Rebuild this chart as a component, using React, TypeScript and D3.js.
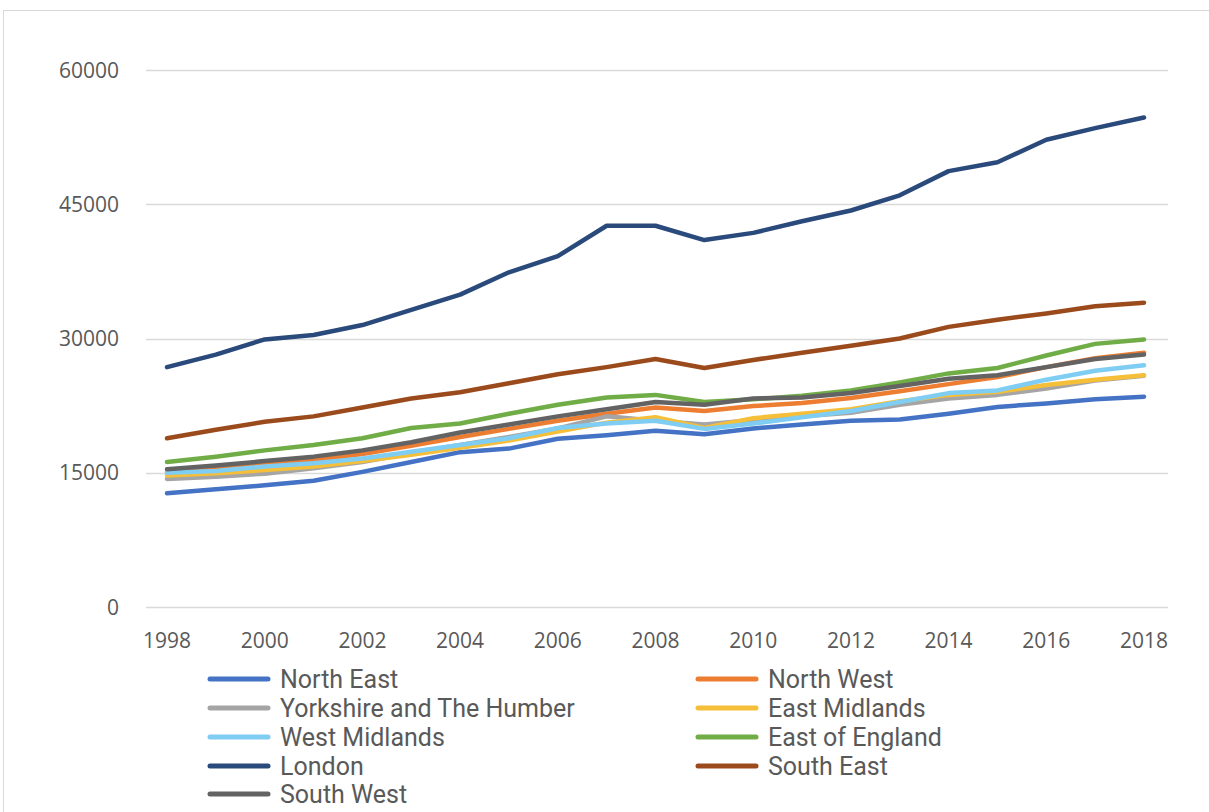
import React from "react";
import * as d3 from "d3";

const years = [1998,1999,2000,2001,2002,2003,2004,2005,2006,2007,2008,2009,2010,2011,2012,2013,2014,2015,2016,2017,2018];
const xTickYears = [1998,2000,2002,2004,2006,2008,2010,2012,2014,2016,2018];
const yTicks = [0, 15000, 30000, 45000, 60000];

const northEast = [12700,13150,13600,14100,15100,16200,17300,17700,18800,19200,19700,19300,19950,20400,20800,20950,21600,22350,22750,23200,23500];
const northWest = [15100,15500,15900,16400,17100,18000,19000,19900,20800,21600,22300,21900,22450,22800,23350,24100,24900,25700,26800,27800,28400];
const yorkshire = [14300,14550,14900,15500,16200,17200,18100,19000,19950,21300,20800,20400,20900,21300,21700,22600,23300,23700,24400,25300,25850];
const eastMidlands = [14700,14950,15300,15700,16300,17000,17800,18600,19600,20600,21200,20000,21100,21600,22100,23000,23700,24050,24800,25400,25900];
const westMidlands = [15000,15200,15700,16050,16600,17350,18100,18850,20000,20500,20800,19900,20500,21200,21900,22900,23900,24200,25400,26400,27000];
const eastOfEngland = [16200,16800,17500,18100,18850,20000,20500,21600,22600,23400,23700,22900,23200,23600,24200,25100,26100,26700,28100,29400,29900];
const london = [26800,28200,29900,30400,31500,33200,34900,37400,39200,42600,42600,41000,41800,43100,44300,46000,48700,49700,52200,53500,54700];
const southEast = [18850,19800,20700,21300,22300,23300,24000,25000,26000,26800,27700,26700,27600,28400,29200,30000,31300,32100,32800,33600,34000];
const southWest = [15400,15800,16300,16800,17500,18400,19500,20400,21300,22100,22900,22600,23300,23400,23900,24700,25500,25900,26800,27700,28200];

const seriesNames = ["North East","North West","Yorkshire and The Humber","East Midlands","West Midlands","East of England","London","South East","South West"];
const seriesValues = [northEast,northWest,yorkshire,eastMidlands,westMidlands,eastOfEngland,london,southEast,southWest];
const seriesColors = ["#4472C4","#ED7D31","#A5A5A5","#F5BF3A","#7FCDF3","#70AD47","#2A4A7C","#9B4A1C","#636363"];

const W = 1209, H = 812;
const plotLeft = 146, plotRight = 1168, plotTop = 70, plotBottom = 607;

export default function App() {
  const x = d3.scaleLinear().domain([1998, 2018]).range([167, 1144]);
  const y = d3.scaleLinear().domain([0, 60000]).range([plotBottom, plotTop]);
  const line = d3.line<number>().x((_, i) => x(years[i])).y((v) => y(v));

  const legendCols = [210, 698];
  const legendRowY = [679, 708, 737, 766, 794];

  return (
    <svg width={W} height={H} style={{ position: "absolute", left: 0, top: 0, display: "block", background: "#fff" }}>
      <rect x={3.5} y={10.5} width={1220} height={820} fill="#fff" stroke="#d9d9d9" strokeWidth={1} />
      {yTicks.map((t) => (
        <g key={t}>
          <line x1={plotLeft} x2={plotRight} y1={Math.round(y(t)) + 0.5} y2={Math.round(y(t)) + 0.5} stroke="#d9d9d9" strokeWidth={1.5} />
          <text x={119} y={y(t)} dy="0.36em" textAnchor="end" fontFamily="'Open Sans', sans-serif" fontSize={21} fill="#595959">{t}</text>
        </g>
      ))}
      {xTickYears.map((yr) => (
        <text key={yr} x={x(yr)} y={648} textAnchor="middle" fontFamily="'Open Sans', sans-serif" fontSize={21} fill="#595959">{yr}</text>
      ))}
      {seriesValues.map((vals, i) => (
        <path key={seriesNames[i]} d={line(vals) || ""} fill="none" stroke={seriesColors[i]} strokeWidth={4.5} strokeLinecap="round" strokeLinejoin="round" />
      ))}
      {seriesNames.map((name, i) => {
        const col = i % 2;
        const row = Math.floor(i / 2);
        const lx = legendCols[col];
        const ly = legendRowY[row];
        return (
          <g key={name}>
            <line x1={lx} x2={lx + 58} y1={ly} y2={ly} stroke={seriesColors[i]} strokeWidth={5} strokeLinecap="round" />
            <text x={lx + 70} y={ly} dy="0.36em" fontFamily="Roboto, sans-serif" fontSize={25} fill="#595959">{name}</text>
          </g>
        );
      })}
    </svg>
  );
}
